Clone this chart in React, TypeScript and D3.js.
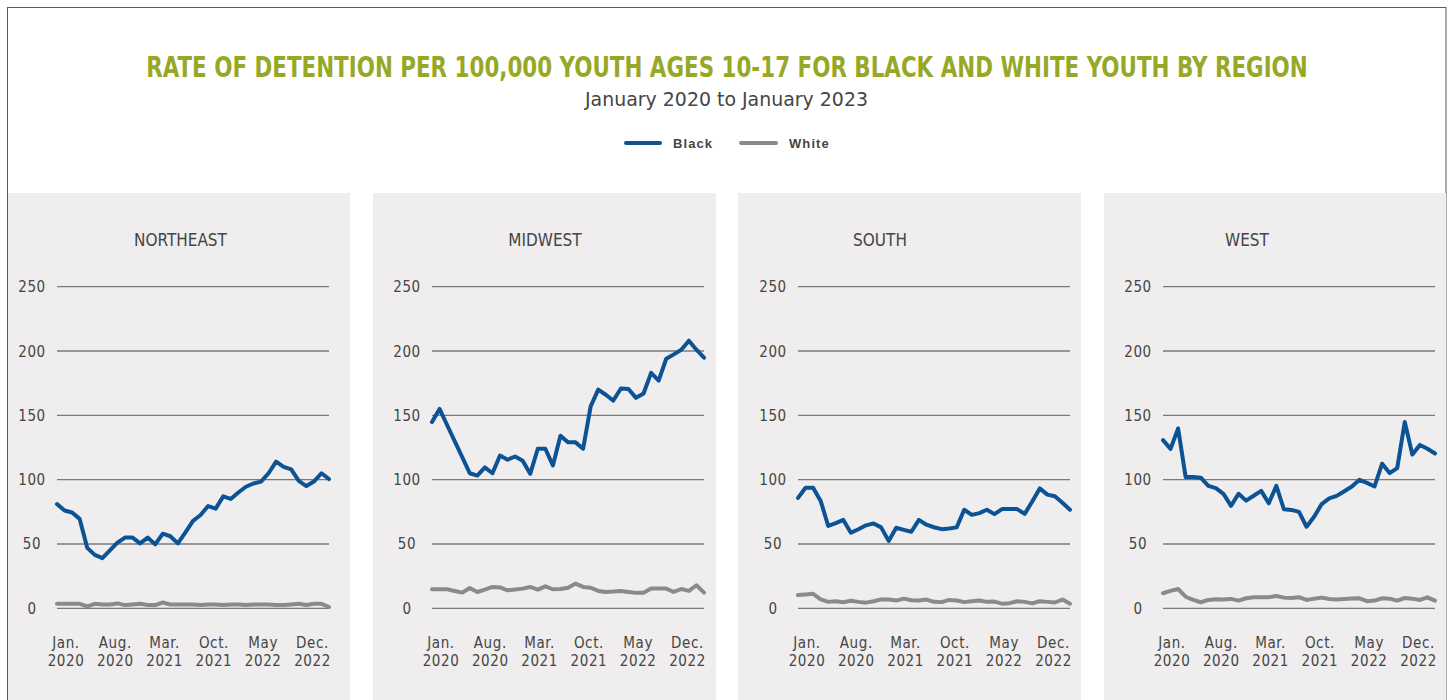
import React, { useLayoutEffect, useRef, useState } from "react";
import * as d3 from "d3";

const regions = ["NORTHEAST", "MIDWEST", "SOUTH", "WEST"];

const blackNortheast = [81, 76, 74.5, 69.5, 47, 41.5, 39, 45, 51, 55, 55, 50.5, 55, 49.7, 58, 56, 50.5, 59, 68, 72.5, 79.5, 77.5, 87, 85, 90, 94.5, 97, 98.5, 105, 114, 110, 108, 99, 95, 98.5, 105, 100.5];
const whiteNortheast = [3.5, 3.5, 3.5, 3.5, 1.5, 3.5, 3, 3, 3.8, 2.5, 3, 3.5, 2.5, 2.5, 4.5, 3, 3, 3, 3, 2.5, 3, 3, 2.5, 3, 3, 2.5, 3, 3, 3, 2.5, 2.5, 3, 3.5, 2.5, 3.5, 3.5, 1];

const blackMidwest = [144.8, 155, 142.5, 130, 117.5, 105, 103.2, 109.5, 105, 118.8, 115.5, 118, 114.7, 104.5, 124, 124, 111, 134.2, 129, 129, 124, 157, 170, 166, 161.5, 170.9, 170.5, 163.6, 167, 183, 177, 194, 197.4, 201, 208, 201, 194.8];
const whiteMidwest = [14.8, 14.8, 14.8, 13.5, 12.2, 15.8, 12.7, 14.5, 16.6, 16.2, 14, 14.6, 15.3, 16.6, 14.5, 17.1, 14.8, 15, 16, 19.2, 16.6, 16, 13.5, 12.7, 13, 13.5, 12.7, 12, 12, 15.3, 15.3, 15.3, 12.7, 15, 13.5, 17.9, 12.2];

const blackSouth = [85.8, 93.7, 93.7, 83.5, 64, 66.2, 68.7, 58.7, 61.5, 64.5, 66, 62.9, 52.4, 62.6, 61, 59.5, 68.7, 65, 63, 61.5, 62, 62.9, 76.6, 72.6, 74, 76.6, 73.2, 77.1, 77.1, 77.1, 73.4, 83, 93.2, 88.4, 87.1, 82, 76.6];
const whiteSouth = [10.3, 10.8, 11.3, 7, 5, 5.5, 4.7, 5.8, 5, 4.4, 5.5, 6.8, 6.8, 6, 7.5, 6.2, 6, 6.8, 5, 4.8, 6.5, 6, 4.8, 5.5, 6, 5, 5.2, 3.6, 4, 5.5, 5, 3.8, 5.5, 5, 4.5, 6.8, 3.5];

const blackWest = [130.7, 123.9, 139.8, 102, 102, 101.5, 95.2, 93.4, 89, 79.6, 89, 83.7, 87.5, 91.3, 81.6, 95.2, 77, 76.5, 75, 63.4, 71.2, 81, 85.5, 87.4, 91, 94.7, 99.9, 97.5, 94.7, 112.4, 105.1, 109, 144.8, 119.5, 127, 124, 120.3];
const whiteWest = [11.7, 13.5, 15, 9, 6.5, 4.7, 6.5, 7, 6.8, 7.3, 6, 7.8, 8.6, 8.5, 8.6, 9.5, 8.3, 8, 8.6, 6.5, 7.5, 8.3, 7.2, 6.8, 7.3, 7.7, 7.8, 5.5, 6, 7.8, 7.5, 6, 8, 7.5, 6.5, 8.5, 6];

const blackSeries = [blackNortheast, blackMidwest, blackSouth, blackWest];
const whiteSeries = [whiteNortheast, whiteMidwest, whiteSouth, whiteWest];

const yTicks = [0, 50, 100, 150, 200, 250];
const xTickMonths = ["Jan.", "Aug.", "Mar.", "Oct.", "May", "Dec."];
const xTickYears = ["2020", "2020", "2021", "2021", "2022", "2022"];

const BLUE = "#0b5394";
const GRAY = "#8a8a8a";
const OLIVE = "#97a826";
const TEXT = "#454545";
const NARROW = "'DejaVu Sans Condensed', 'DejaVu Sans', sans-serif";

const panelX = [8, 373, 738, 1104];
const panelW = [342, 343, 343, 342];
const gridX0 = [57, 432, 798, 1163];
const gridW = 272;
const titleX = [180.5, 545, 880, 1247];

const y = d3.scaleLinear().domain([0, 250]).range([608.3, 286.7]);

function FitText({ cx, cy, width, children, ...rest }: any) {
  const ref = useRef<SVGTextElement>(null);
  const [sx, setSx] = useState(1);
  useLayoutEffect(() => {
    if (ref.current) {
      const w = ref.current.getComputedTextLength();
      if (w > 0) setSx(width / w);
    }
  }, [width]);
  return (
    <g transform={`translate(${cx},${cy}) scale(${sx},1)`}>
      <text ref={ref} x={0} y={0} textAnchor="middle" {...rest}>
        {children}
      </text>
    </g>
  );
}

function Panel({ i }: { i: number }) {
  const x = d3.scaleLinear().domain([0, blackSeries[i].length - 1]).range([gridX0[i], gridX0[i] + gridW]);
  const xl = d3.scalePoint<number>().domain(d3.range(xTickMonths.length)).range([gridX0[i] + 9, gridX0[i] + 255.5]);
  const line = d3.line<number>().x((_, k) => x(k)).y((d) => y(d)).curve(d3.curveLinear);
  return (
    <g>
      <rect x={panelX[i]} y={193} width={panelW[i]} height={520} fill="#efedee" />
      <text x={titleX[i]} y={246} textAnchor="middle" fontFamily={NARROW} fontStretch="condensed" fontSize={17} fill={TEXT}>
        {regions[i]}
      </text>
      {yTicks.map((t) => (
        <g key={t}>
          <line x1={gridX0[i]} x2={gridX0[i] + gridW} y1={y(t)} y2={y(t)} stroke="#7a7a7a" strokeWidth={1.3} />
          <text x={gridX0[i] - 25} y={y(t) + 5.5} textAnchor="middle" fontFamily={NARROW} fontStretch="condensed" fontSize={15} fill={TEXT} letterSpacing={0.6}>
            {t}
          </text>
        </g>
      ))}
      {xTickMonths.map((m, k) => (
        <g key={k}>
          <text x={xl(k)} y={648} textAnchor="middle" fontFamily={NARROW} fontStretch="condensed" fontSize={15} fill={TEXT} letterSpacing={0.6}>
            {m}
          </text>
          <text x={xl(k)} y={666} textAnchor="middle" fontFamily={NARROW} fontStretch="condensed" fontSize={15} fill={TEXT} letterSpacing={0.6}>
            {xTickYears[k]}
          </text>
        </g>
      ))}
      <path d={line(whiteSeries[i]) || ""} fill="none" stroke={GRAY} strokeWidth={4} strokeLinejoin="round" strokeLinecap="round" />
      <path d={line(blackSeries[i]) || ""} fill="none" stroke={BLUE} strokeWidth={4} strokeLinejoin="round" strokeLinecap="round" />
    </g>
  );
}

export default function App() {
  return (
    <svg width={1450} height={700} style={{ position: "absolute", left: 0, top: 0, background: "#fff" }}>
      <rect x={0} y={0} width={1450} height={700} fill="#fff" />
      <rect x={7.5} y={7.5} width={1438.5} height={720} fill="#fff" stroke="#5a5a5a" strokeWidth={1} />
      <FitText cx={727} cy={77} width={1162} fontFamily={NARROW} fontStretch="condensed" fontWeight="bold" fontSize={28} fill={OLIVE}>
        RATE OF DETENTION PER 100,000 YOUTH AGES 10-17 FOR BLACK AND WHITE YOUTH BY REGION
      </FitText>
      <FitText cx={726.5} cy={106} width={283} fontFamily={NARROW} fontStretch="condensed" fontSize={19} fill={TEXT}>
        January 2020 to January 2023
      </FitText>
      <g>
        <line x1={626} x2={660} y1={143} y2={143} stroke={BLUE} strokeWidth={4} strokeLinecap="round" />
        <text x={673} y={147.5} fontFamily="'Liberation Sans', Arial, sans-serif" fontWeight="bold" fontSize={13} fill={TEXT} letterSpacing={1.1}>
          Black
        </text>
        <line x1={741} x2={776} y1={143} y2={143} stroke={GRAY} strokeWidth={4} strokeLinecap="round" />
        <text x={789} y={147.5} fontFamily="'Liberation Sans', Arial, sans-serif" fontWeight="bold" fontSize={13} fill={TEXT} letterSpacing={1.1}>
          White
        </text>
      </g>
      {regions.map((_, i) => (
        <Panel key={i} i={i} />
      ))}
    </svg>
  );
}
